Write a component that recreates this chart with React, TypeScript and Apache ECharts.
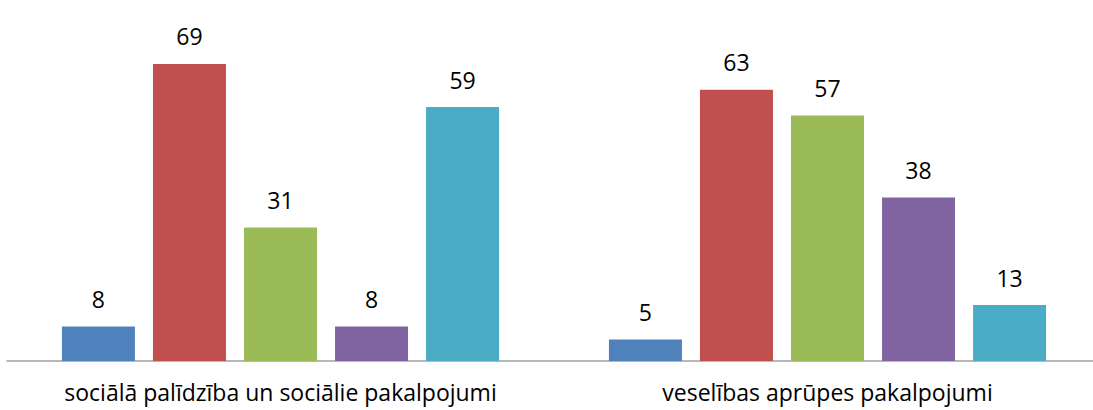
import React, { useEffect, useRef } from "react";
import * as echarts from "echarts";

const categories = ["sociālā palīdzība un sociālie pakalpojumi", "veselības aprūpes pakalpojumi"];
const seriesA = [8, 5];
const seriesB = [69, 63];
const seriesC = [31, 57];
const seriesD = [8, 38];
const seriesE = [59, 13];
const seriesNames = ["A", "B", "C", "D", "E"];
const colors = ["#4F81BD", "#C0504D", "#9BBB59", "#8064A2", "#4BACC6"];

export default function App() {
  const ref = useRef<HTMLDivElement>(null);
  useEffect(() => {
    document.body.style.margin = "0";
    const chart = echarts.init(ref.current!, null, { renderer: "svg" });
    const data = [seriesA, seriesB, seriesC, seriesD, seriesE];
    chart.setOption({
      animation: false,
      grid: { left: 7, right: 0, top: 16.6, bottom: 49, containLabel: false },
      xAxis: {
        type: "category",
        data: categories,
        axisTick: { show: false },
        axisLine: { lineStyle: { color: "#a0a0a0", width: 1.5 } },
        axisLabel: { color: "#000", fontSize: 23, fontFamily: "Open Sans", margin: 19, interval: 0, hideOverlap: false },
      },
      yAxis: { type: "value", min: 0, max: 80, show: false, splitLine: { show: false } },
      series: data.map((d, i) => ({
        type: "bar",
        name: seriesNames[i],
        data: d,
        barWidth: 73,
        barGap: "24.7%",
        itemStyle: { color: colors[i] },
        label: { show: true, position: "top", distance: 16, color: "#000", fontSize: 23, fontFamily: "Open Sans" },
      })),
    });
    return () => chart.dispose();
  }, []);
  return (
    <div style={{ width: 1093, height: 410, overflow: "hidden" }}>
      <div ref={ref} style={{ width: 1101, height: 410 }} />
    </div>
  );
}
